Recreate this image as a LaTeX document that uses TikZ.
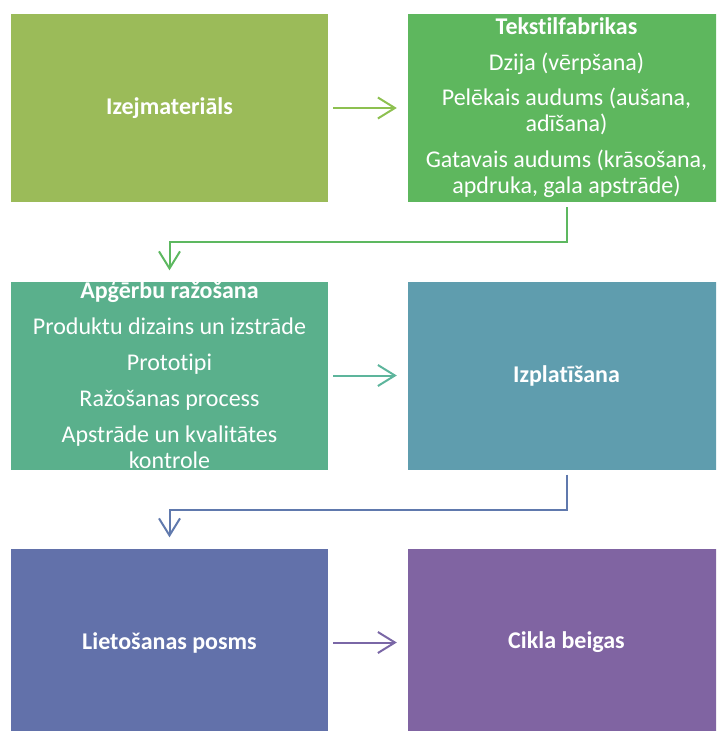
\documentclass[tikz,border=0pt]{standalone}
\usepackage{fontspec}
\setmainfont{Carlito}[Ligatures={NoCommon}]
\usepackage{tikz}
\usetikzlibrary{arrows.meta}
\definecolor{boxa}{HTML}{9BBB59}
\definecolor{boxb}{HTML}{5EB75E}
\definecolor{boxc}{HTML}{5AB08C}
\definecolor{boxd}{HTML}{5F9DAE}
\definecolor{boxe}{HTML}{6271AA}
\definecolor{boxf}{HTML}{8064A2}
\definecolor{linka}{HTML}{8DC050}
\definecolor{linkb}{HTML}{5DB860}
\definecolor{linkc}{HTML}{5DB59C}
\definecolor{linkd}{HTML}{6079AD}
\definecolor{linke}{HTML}{7A67A6}

\begin{document}
\begin{tikzpicture}[x=1pt,y=-1pt,
  stage/.style={fill=#1,minimum width=317pt,minimum height=188pt,inner sep=0pt,
    text=white,align=center,font=\fontsize{24}{26}\selectfont},
  link/.style={draw=#1,line width=2pt,-{Straight Barb[length=17pt,width=21pt]},
    shorten <=5pt,shorten >=11pt}]
  \clip (0,0) rectangle (716,731);
  \node[stage=boxa] (raw) at (169.5,108) {\textbf{Izejmateriāls}};
  \node[stage=boxb] (mill) at (566.5,108) {\textbf{Tekstilfabrikas}\\[10pt]
    Dzija (vērpšana)\\[9pt]
    Pelēkais audums (aušana,\\adīšana)\\[10pt]
    Gatavais audums (krāsošana,\\apdruka, gala apstrāde)};
  \node[stage=boxc] (make) at (169.5,375.5) {\textbf{Apģērbu ražošana}\\[10pt]
    Produktu dizains un izstrāde\\[10pt]
    Prototipi\\[10pt]
    Ražošanas process\\[10pt]
    Apstrāde un kvalitātes\\kontrole};
  \node[stage=boxd] (ship) at (566.5,375.5) {\textbf{Izplatīšana}};
  \node[stage=boxe] (use) at (169.5,642.5) {\textbf{Lietošanas posms}};
  \node[stage=boxf] (end) at (566.5,642.5) {\textbf{Cikla beigas}};
  \draw[link=linka] (raw) -- (mill);
  \draw[link=linkb] (mill.south) -- ++(0,40) -| (make.north);
  \draw[link=linkc] (make) -- (ship);
  \draw[link=linkd] (ship.south) -- ++(0,40) -| (use.north);
  \draw[link=linke] (use) -- (end);
\end{tikzpicture}
\end{document}
